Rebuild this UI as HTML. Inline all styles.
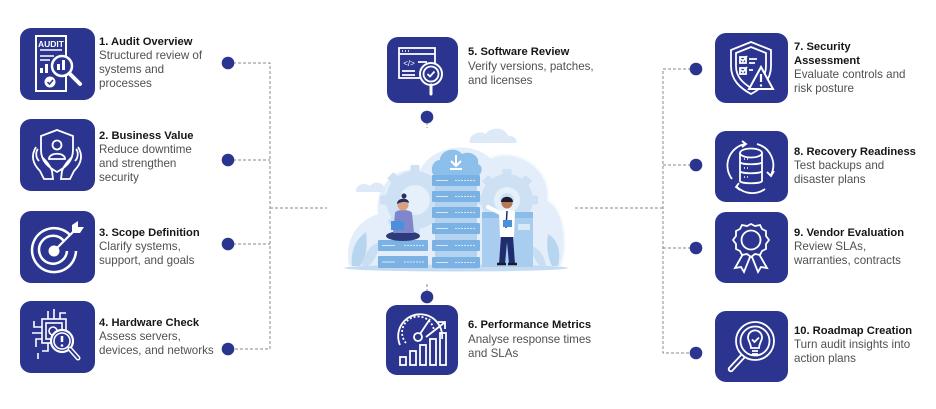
<!DOCTYPE html>
<html><head><meta charset="utf-8">
<style>
html,body{margin:0;padding:0;background:#fff;}
body{width:936px;height:409px;position:relative;overflow:hidden;font-family:"Liberation Sans",Arial,sans-serif;}
.box{position:absolute;background:#2b3590;border-radius:11px;}
.box svg{position:absolute;left:0;top:0;width:100%;height:100%;}
.t{position:absolute;font-size:11.6px;line-height:14px;color:#505050;white-space:nowrap;}
.t b{display:block;font-size:11.2px;color:#161616;font-weight:bold;}
#g{position:absolute;left:0;top:0;}
</style></head><body>
<svg id="g" width="936" height="409" viewBox="0 0 936 409">
 <g stroke="#8a8a8a" stroke-width="1" stroke-dasharray="3 2" fill="none">
  <path d="M228,63H270V349H228M228,160H270M228,244H270M270,208H327"/>
  <path d="M427,117V128M427,284V297"/>
  <path d="M575,208H663M696,69H663V353H696M663,165H696M663,248H696"/>
 </g>
 <g fill="#2b3590">
  <circle cx="228" cy="63" r="6.3"/><circle cx="228" cy="160" r="6.3"/><circle cx="228" cy="244" r="6.3"/><circle cx="228" cy="349" r="6.3"/>
  <circle cx="427" cy="117" r="6.3"/><circle cx="427" cy="297" r="6.3"/>
  <circle cx="696" cy="69" r="6.3"/><circle cx="696" cy="165" r="6.3"/><circle cx="696" cy="248" r="6.3"/><circle cx="696" cy="353" r="6.3"/>
 </g>
 <!-- illustration -->
 <g>
  <path d="M349,266 C344,236 360,220 378,214 C374,186 396,166 420,170 C432,146 470,140 490,158 C516,146 552,168 548,200 C566,212 568,246 561,266 Z" fill="#e4eefa"/>
  <path d="M490,158 C516,146 552,168 548,200 C566,212 568,246 561,266" fill="none" stroke="#f6f9fd" stroke-width="2"/>
  <path d="M470,143 C468,134 480,130 486,134 C490,126 506,127 508,136 C514,135 518,140 516,143 Z" fill="#dde9f7"/>
  <path d="M356,192 C355,184 366,182 370,186 C374,180 386,182 385,192 Z" fill="#dde9f7"/>
  <!-- gears -->
  <g fill="#cde0f4">
   <circle cx="415" cy="200" r="29"/>
   <g transform="translate(415,200)">
    <rect x="-4.5" y="-35" width="9" height="70" rx="1"/><rect x="-35" y="-4.5" width="70" height="9" rx="1"/>
    <rect x="-4.5" y="-35" width="9" height="70" rx="1" transform="rotate(45)"/><rect x="-4.5" y="-35" width="9" height="70" rx="1" transform="rotate(-45)"/>
   </g>
   <circle cx="507" cy="200" r="26"/>
   <g transform="translate(507,200)">
    <rect x="-4.5" y="-31" width="9" height="62" rx="1"/><rect x="-31" y="-4.5" width="62" height="9" rx="1"/>
    <rect x="-4.5" y="-31" width="9" height="62" rx="1" transform="rotate(45)"/><rect x="-4.5" y="-31" width="9" height="62" rx="1" transform="rotate(-45)"/>
   </g>
  </g>
  <circle cx="415" cy="200" r="15" fill="#e6f0fa"/>
  <circle cx="507" cy="200" r="13" fill="#e6f0fa"/>
  <circle cx="507" cy="200" r="7" fill="#cde0f4"/>
  <!-- leaves -->
  <path d="M352,266 C350,248 358,238 366,232 C368,246 366,258 360,266 Z" fill="#b8d5ef"/>
  <path d="M362,266 C364,252 372,244 380,242 C378,254 374,262 368,266 Z" fill="#c8def3"/>
  <path d="M558,266 C562,250 556,238 548,234 C546,248 548,258 552,266 Z" fill="#b8d5ef"/>
  <path d="M546,266 C544,254 538,248 532,246 C532,256 536,262 540,266 Z" fill="#c8def3"/>
  <!-- ground -->
  <ellipse cx="456" cy="268" rx="112" ry="3.5" fill="#c4dbf2"/>
  <!-- right panel -->
  <rect x="482" y="212" width="51" height="55" fill="#a9cdee"/>
  <rect x="482" y="212" width="51" height="6" fill="#8cbde8"/>
  <rect x="518" y="224" width="12" height="6" fill="#d8e9f8"/>
  <!-- stack -->
  <rect x="435" y="172" width="42" height="97" fill="#b3d3f0"/>
  <path d="M436,176 C430,176 430,160 440,160 C440,150 456,146 462,154 C470,150 480,156 478,164 C484,166 482,176 476,176 Z" fill="#8cbfe9"/>
  <path d="M456,155V166M451,161L456,166L461,161M450,169H462" stroke="#fff" stroke-width="2" fill="none"/>
  <g fill="#7bb2e3">
   <rect x="432" y="175" width="48" height="11" rx="1"/>
   <rect x="432" y="191" width="48" height="11" rx="1"/>
   <rect x="432" y="207" width="48" height="11" rx="1"/>
   <rect x="432" y="223" width="48" height="11" rx="1"/>
   <rect x="432" y="240" width="48" height="11" rx="1"/>
   <rect x="432" y="257" width="48" height="11" rx="1"/>
   <rect x="378" y="240" width="50" height="11" rx="1"/>
   <rect x="378" y="256" width="50" height="12" rx="1"/>
  </g>
  <g stroke="#d6e8f8" stroke-width="1">
   <path d="M436,180.5H448M436,196.5H448M436,212.5H448M436,228.5H448M436,245.5H448M436,262.5H448M382,245.5H395M382,262H395"/>
   <path d="M455,180.5H476M455,196.5H476M455,212.5H476M455,228.5H476M455,245.5H476M455,262.5H476M404,245.5H424M404,262H424" stroke-dasharray="2 1"/>
  </g>
  <!-- woman -->
  <ellipse cx="403" cy="236" rx="17" ry="5" fill="#2d3a7c"/>
  <path d="M395,213 C396,209 410,209 412,213 L414,233 H393 Z" fill="#7f86cc"/>
  <rect x="391" y="221" width="13" height="9" fill="#4b90d8"/>
  <circle cx="403" cy="205" r="5.5" fill="#d9a184"/>
  <path d="M397,204 C397,197 409,197 409,203 C405,201 401,202 397,204 Z" fill="#26305f"/>
  <circle cx="404" cy="196" r="2.5" fill="#26305f"/>
  <!-- man -->
  <path d="M501,236 L499,264 H505 L507,242 L509,264 H515 L513,236 Z" fill="#1f2d6e"/>
  <path d="M499,212 C500,209 514,209 515,212 L514,237 H500 Z" fill="#fff"/>
  <path d="M500,213 L488,207" stroke="#fff" stroke-width="4" stroke-linecap="round"/>
  <path d="M507,211 L506,228" stroke="#1f2d6e" stroke-width="1.5"/>
  <rect x="503" y="220" width="9" height="7" fill="#4b90d8"/>
  <circle cx="507" cy="203" r="5.5" fill="#b77a55"/>
  <path d="M501,202 C501,195 513,195 513,202 Z" fill="#1c1c2e"/>
  <path d="M497,264H506M508,264H517" stroke="#1c1c2e" stroke-width="2.5"/>
 </g>
</svg>

<!-- Boxes -->
<div class="box" style="left:20px;top:28px;width:75px;height:72px">
<svg viewBox="0 0 75 72" fill="none" stroke="#fff" stroke-width="2">
 <path d="M16,8H46V63H16Z"/>
 <text x="31" y="19" font-family="Liberation Sans,sans-serif" font-size="8.5" font-weight="bold" fill="#fff" stroke="none" text-anchor="middle">AUDIT</text>
 <path d="M20,22H42M20,28H34M20,32H30" stroke-width="1.5"/>
 <rect x="20" y="40" width="3" height="5" fill="#fff" stroke="none"/><rect x="25" y="36" width="3" height="9" fill="#fff" stroke="none"/>
 <circle cx="42" cy="38" r="10" fill="#2b3590" stroke-width="2.5"/>
 <rect x="37" y="36" width="3" height="6" fill="#fff" stroke="none"/><rect x="42" y="32" width="3" height="10" fill="#fff" stroke="none"/>
 <path d="M49.5,45.5L60,56" stroke-width="4" stroke-linecap="round"/>
 <circle cx="30" cy="54" r="5.5" fill="#fff" stroke="none"/>
 <path d="M27.5,54L29.5,56L33,52" stroke="#2b3590" stroke-width="1.5"/>
</svg></div>

<div class="box" style="left:20px;top:119px;width:75px;height:72px">
<svg viewBox="0 0 75 72" fill="none" stroke="#fff" stroke-width="1.8">
 <path d="M37,11L53,17V31C53,42 46,48 37,53C28,48 21,42 21,31V17Z"/>
 <circle cx="37" cy="26" r="4.5"/>
 <path d="M29,40C29,33 45,33 45,40Z"/>
 <path d="M16,28C11,36 12,44 20,52L24,60H33L32,52C30,46 26,42 22,38M19,42C15,38 16,32 18,30"/>
 <path d="M58,28C63,36 62,44 54,52L50,60H41L42,52C44,46 48,42 52,38M55,42C59,38 58,32 56,30"/>
</svg></div>

<div class="box" style="left:20px;top:211px;width:75px;height:72px">
<svg viewBox="0 0 75 72" fill="none" stroke="#fff" stroke-width="2.5">
 <path d="M50,24A22,22 0 1 0 56,40"/>
 <path d="M44,30A14,14 0 1 0 47,40" />
 <circle cx="34" cy="40" r="5.5" fill="#fff" stroke="none"/>
 <path d="M34,40L54,20" stroke-width="2.2"/>
 <path d="M52,14L52,22L60,22L64,16L58,16L58,10Z" fill="#fff" stroke="none"/>
</svg></div>

<div class="box" style="left:20px;top:301px;width:75px;height:72px">
<svg viewBox="0 0 75 72" fill="none" stroke="#fff" stroke-width="1.6">
 <rect x="22" y="18" width="24" height="24"/>
 <rect x="26" y="22" width="16" height="16"/>
 <path d="M28,18V10M34,18V8M40,18V12H46M22,26H14V20M22,32H12M22,38H16V46M28,42V50H22M18,52V58"/>
 <circle cx="33" cy="30" r="4"/>
 <circle cx="42" cy="40" r="11" fill="#2b3590" stroke-width="2.2"/>
 <circle cx="42" cy="40" r="8"/>
 <path d="M42,35V41" stroke-width="2.5"/><circle cx="42" cy="44.5" r="1.3" fill="#fff" stroke="none"/>
 <path d="M50,48L58,57" stroke-width="5" stroke-linecap="round"/>
 <path d="M50,48L58,57" stroke="#2b3590" stroke-width="2" stroke-linecap="round"/>
</svg></div>

<div class="box" style="left:387px;top:37px;width:71px;height:66px">
<svg viewBox="0 0 71 66" fill="none" stroke="#fff" stroke-width="1.8">
 <rect x="12" y="11" width="36" height="30"/>
 <path d="M12,17H48"/>
 <path d="M15,14H16M18,14H19M21,14H22" stroke-width="1.5"/>
 <text x="22" y="29" font-family="Liberation Sans,sans-serif" font-size="8" fill="#fff" stroke="none" text-anchor="middle">&lt;/&gt;</text>
 <path d="M31,25H40M15,34H28M15,38H28"/>
 <circle cx="44" cy="37" r="11" fill="#2b3590" stroke-width="2"/>
 <circle cx="44" cy="37" r="7.5"/>
 <path d="M40.5,37L43,39.5L47.5,34.5"/>
 <path d="M44,48V57" stroke-width="3" stroke-linecap="round"/>
</svg></div>

<div class="box" style="left:386px;top:305px;width:72px;height:70px">
<svg viewBox="0 0 72 70" fill="none" stroke="#fff" stroke-width="1.8">
 <path d="M14,40A22,22 0 1 1 56,34"/>
 <path d="M20,38A16,16 0 1 1 48,26" stroke-dasharray="2 2"/>
 <circle cx="32" cy="32" r="4"/>
 <path d="M34,29L44,14"/>
 <path d="M40,32L58,18M52,17H59V24"/>
 <rect x="14" y="52" width="6" height="8"/>
 <rect x="24" y="46" width="6" height="14"/>
 <rect x="34" y="40" width="6" height="20"/>
 <rect x="44" y="34" width="6" height="26"/>
 <rect x="54" y="28" width="6" height="32"/>
</svg></div>

<div class="box" style="left:715px;top:33px;width:73px;height:70px">
<svg viewBox="0 0 73 70" fill="none" stroke="#fff" stroke-width="1.8">
 <path d="M36,9L56,17V33C56,47 47,55 36,61C25,55 16,47 16,33V17Z"/>
 <path d="M36,14L51,20V33C51,44 44,50 36,55C28,50 21,44 21,33V20Z"/>
 <rect x="25" y="24" width="6" height="6"/><rect x="25" y="35" width="6" height="6"/>
 <path d="M26,26L28,28L32,23M26,37L28,39L32,34M34,26H42M34,30H40M34,37H38"/>
 <path d="M46,34L58,56H34Z" fill="#2b3590" stroke-width="2"/>
 <path d="M46,41V49" stroke-width="2.2"/><circle cx="46" cy="52.5" r="1.2" fill="#fff" stroke="none"/>
</svg></div>

<div class="box" style="left:715px;top:131px;width:73px;height:71px">
<svg viewBox="0 0 73 71" fill="none" stroke="#fff" stroke-width="1.8">
 <ellipse cx="36" cy="22" rx="11" ry="4.5"/>
 <path d="M25,22V50C25,53 47,53 47,50V22M25,31C25,34 47,34 47,31M25,40C25,43 47,43 47,40"/>
 <path d="M29,28H30M32,28H33M29,37H30M32,37H33M29,46H30M32,46H33" stroke-width="1.6"/>
 <path d="M17,48A22,22 0 0 1 30,13"/>
 <path d="M42,13A22,22 0 0 1 56,44"/>
 <path d="M52,41L56,45L59,40M27,10L31,13L27,16"/>
 <path d="M22,56A22,22 0 0 0 50,58M24,52L21,56L25,59"/>
</svg></div>

<div class="box" style="left:715px;top:212px;width:73px;height:71px">
<svg viewBox="0 0 73 71" fill="none" stroke="#fff" stroke-width="1.8">
 <path d="M36,12 L40,14 45,13 47,17 51,19 51,24 54,28 51,32 51,37 47,39 45,43 40,42 36,45 32,42 27,43 25,39 21,37 21,32 18,28 21,24 21,19 25,17 27,13 32,14 Z"/>
 <circle cx="36" cy="28" r="9.5"/>
 <path d="M28,42L20,56L26,55L29,60L35,45M44,42L52,56L46,55L43,60L37,45"/>
</svg></div>

<div class="box" style="left:715px;top:311px;width:73px;height:71px">
<svg viewBox="0 0 73 71" fill="none" stroke="#fff" stroke-width="1.8">
 <circle cx="40" cy="30" r="19"/>
 <circle cx="40" cy="30" r="14.5"/>
 <path d="M34,30A7,7 0 1 1 46,30C45,33 44,34 44,37H36C36,34 35,33 34,30Z"/>
 <path d="M37,40H43M37,43H43"/>
 <path d="M37,28.5L39.5,31L44,26.5"/>
 <path d="M27,43L14,57C13,59 15,61 17,60L30,46"/>
</svg></div>

<!-- Text -->
<div class="t" style="left:99px;top:35px"><b>1. Audit Overview</b>Structured review of<br>systems and<br>processes</div>
<div class="t" style="left:99px;top:129px"><b>2. Business Value</b>Reduce downtime<br>and strengthen<br>security</div>
<div class="t" style="left:99px;top:226px"><b>3. Scope Definition</b>Clarify systems,<br>support, and goals</div>
<div class="t" style="left:99px;top:316px"><b>4. Hardware Check</b>Assess servers,<br>devices, and networks</div>
<div class="t" style="left:468px;top:45px;line-height:14.5px"><b>5. Software Review</b>Verify versions, patches,<br>and licenses</div>
<div class="t" style="left:468px;top:318px;line-height:14.5px"><b>6. Performance Metrics</b>Analyse response times<br>and SLAs</div>
<div class="t" style="left:794px;top:40px"><b>7. Security<br>Assessment</b>Evaluate controls and<br>risk posture</div>
<div class="t" style="left:794px;top:145px"><b>8. Recovery Readiness</b>Test backups and<br>disaster plans</div>
<div class="t" style="left:794px;top:226px"><b>9. Vendor Evaluation</b>Review SLAs,<br>warranties, contracts</div>
<div class="t" style="left:794px;top:324px"><b>10. Roadmap Creation</b>Turn audit insights into<br>action plans</div>
</body></html>
